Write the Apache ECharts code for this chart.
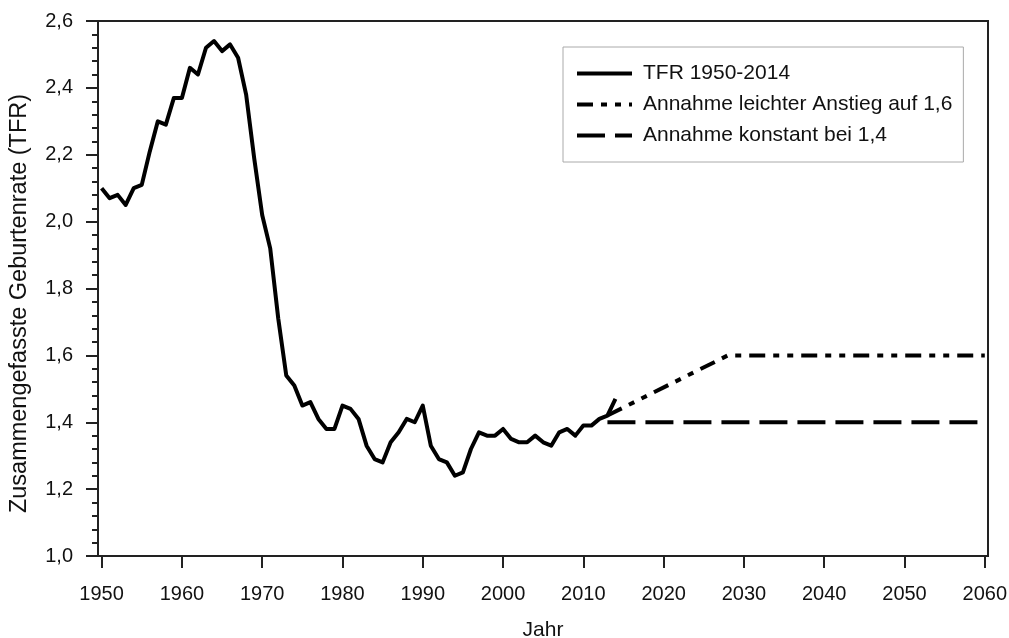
<!DOCTYPE html>
<html>
<head>
<meta charset="utf-8">
<script src="https://cdn.jsdelivr.net/npm/echarts@6/dist/echarts.min.js"></script>
<style>
  html, body { margin: 0; padding: 0; background: #fff; }
  #chart { width: 1009px; height: 638px; }
</style>
</head>
<body>
<div id="chart"></div>
<script>
// TFR 1950-2014
const years = [];
for (let y = 1950; y <= 2014; y++) years.push(y);
const tfr = [
  2.10, 2.07, 2.08, 2.05, 2.10, 2.11, 2.21, 2.30, 2.29, 2.37,
  2.37, 2.46, 2.44, 2.52, 2.54, 2.51, 2.53, 2.49, 2.38, 2.19,
  2.02, 1.92, 1.71, 1.54, 1.51, 1.45, 1.46, 1.41, 1.38, 1.38,
  1.45, 1.44, 1.41, 1.33, 1.29, 1.28, 1.34, 1.37, 1.41, 1.40,
  1.45, 1.33, 1.29, 1.28, 1.24, 1.25, 1.32, 1.37, 1.36, 1.36,
  1.38, 1.35, 1.34, 1.34, 1.36, 1.34, 1.33, 1.37, 1.38, 1.36,
  1.39, 1.39, 1.41, 1.42, 1.47
];
// Annahmen
const riseYears = [2013, 2028, 2060];
const riseValues = [1.42, 1.60, 1.60];
const constYears = [2013, 2060];
const constValues = [1.40, 1.40];
// Achsenbeschriftung
const xTicks = [1950, 1960, 1970, 1980, 1990, 2000, 2010, 2020, 2030, 2040, 2050, 2060];
const seriesNames = ['TFR 1950-2014', 'Annahme leichter Anstieg auf 1,6', 'Annahme konstant bei 1,4'];

const font = 'Liberation Sans, Arial, sans-serif';
const pair = (xs, vs) => xs.map((x, i) => [x, vs[i]]);

let chart = echarts.init(document.getElementById('chart'));
chart.setOption({
  animation: false,
  textStyle: { fontFamily: font },
  grid: {
    left: 98, right: 21, top: 21, bottom: 82,
    outerBoundsMode: 'none',
    containLabel: false,
    show: true, borderColor: '#222', borderWidth: 2
  },
  legend: {
    orient: 'vertical',
    left: 563, top: 47,
    padding: [16, 11, 16, 12],
    itemWidth: 55,
    itemHeight: 14,
    itemGap: 10,
    borderColor: '#aaa',
    borderWidth: 1,
    itemStyle: { opacity: 0 },
    lineStyle: { width: 4 },
    textStyle: { fontSize: 21, color: '#111', fontFamily: font, padding: [0, 0, 0, 6] },
    data: seriesNames
  },
  xAxis: {
    type: 'value',
    min: 1949.55,
    max: 2060.4,
    name: 'Jahr',
    nameLocation: 'middle',
    nameGap: 64,
    nameTextStyle: { fontSize: 21, color: '#111', fontFamily: font },
    axisLine: { lineStyle: { color: '#222', width: 2 } },
    axisTick: { customValues: xTicks, length: 12, lineStyle: { color: '#222', width: 2 } },
    axisLabel: {
      customValues: xTicks, fontSize: 20, color: '#111', margin: 28, fontFamily: font,
      formatter: v => String(v)
    },
    splitLine: { show: false }
  },
  yAxis: {
    type: 'value',
    min: 1.0,
    max: 2.6,
    interval: 0.2,
    name: 'Zusammengefasste Geburtenrate (TFR)',
    nameLocation: 'middle',
    nameGap: 66,
    nameTextStyle: { fontSize: 23.5, color: '#111', fontFamily: font, padding: [0, 30, 0, 0] },
    axisLine: { show: true, lineStyle: { color: '#222', width: 2 } },
    axisTick: { show: true, length: 12, lineStyle: { color: '#222', width: 2 } },
    minorTick: { show: true, splitNumber: 5, length: 6, lineStyle: { color: '#222', width: 2 } },
    axisLabel: {
      fontSize: 20, color: '#111', margin: 25, fontFamily: font,
      formatter: v => v.toFixed(1).replace('.', ',')
    },
    splitLine: { show: false }
  },
  series: [
    {
      name: seriesNames[0],
      type: 'line',
      data: pair(years, tfr),
      symbol: 'none',
      lineStyle: { color: '#000', width: 4, join: 'round' },
      z: 3
    },
    {
      name: seriesNames[1],
      type: 'line',
      data: pair(riseYears, riseValues),
      symbol: 'none',
      lineStyle: { color: '#000', width: 4, type: [16, 8, 6, 8, 6, 8] }
    },
    {
      name: seriesNames[2],
      type: 'line',
      data: pair(constYears, constValues),
      symbol: 'none',
      lineStyle: { color: '#000', width: 4, type: [28, 10] }
    }
  ]
});
window.addEventListener('resize', () => chart.resize());
</script>
</body>
</html>
